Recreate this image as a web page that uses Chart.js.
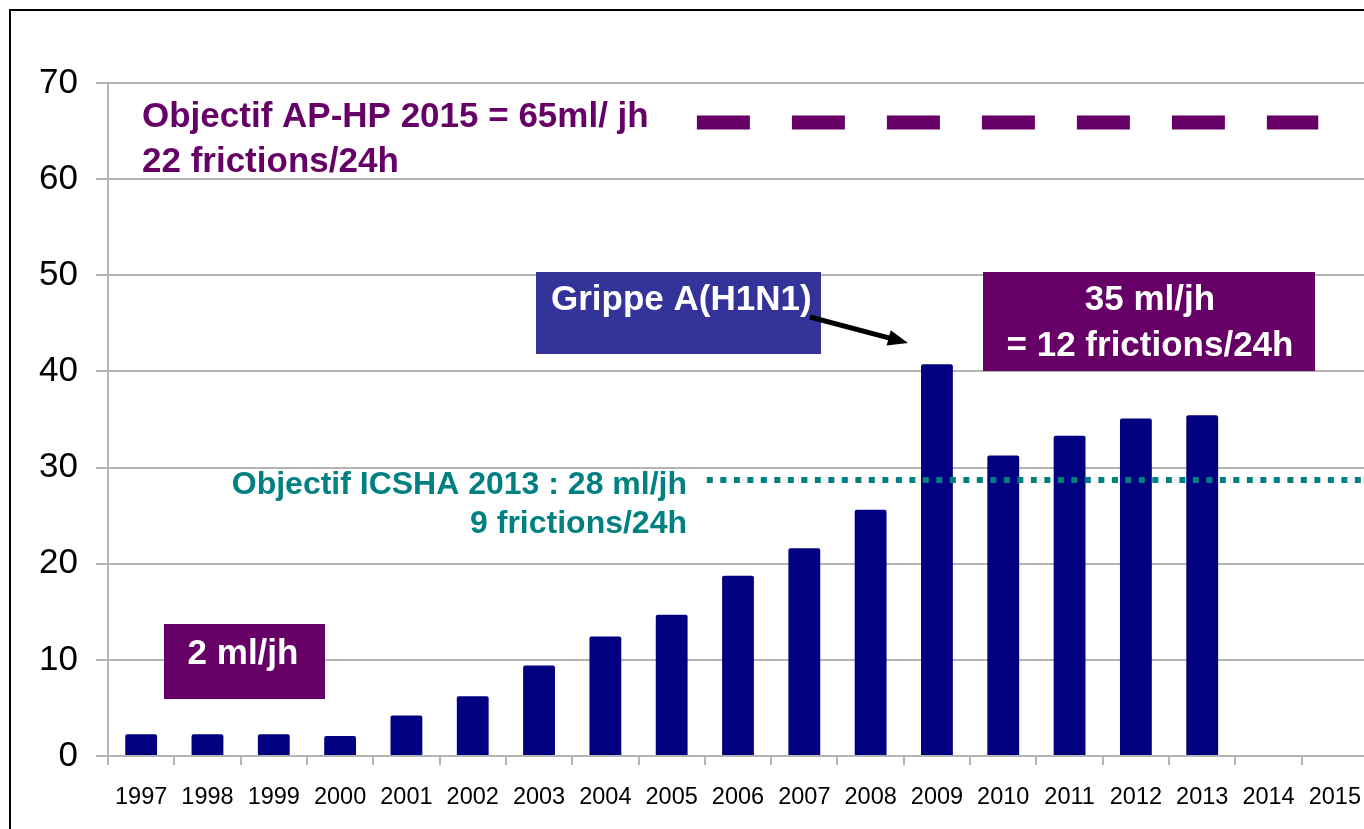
<!DOCTYPE html>
<html>
<head>
<meta charset="utf-8">
<script src="https://cdn.jsdelivr.net/npm/chart.js@4.4.0/dist/chart.umd.min.js"></script>
<style>
  html, body { margin: 0; padding: 0; background: #fff; overflow: hidden; }
  #wrap { position: absolute; left: 0; top: 0; width: 1380px; height: 829px; }
</style>
</head>
<body>
<div id="wrap"><canvas id="chart"></canvas></div>
<script>
///////////////////////////
// DATA
///////////////////////////

const years = ["1997", "1998", "1999", "2000", "2001", "2002", "2003", "2004", "2005", "2006",
               "2007", "2008", "2009", "2010", "2011", "2012", "2013", "2014", "2015"];
const consumption = [2.26, 2.26, 2.26, 2.08, 4.2, 6.22, 9.41, 12.42, 14.7, 18.75,
                     21.6, 25.6, 40.74, 31.25, 33.3, 35.1, 35.45, null, null];
const yTicks = [0, 10, 20, 30, 40, 50, 60, 70];

// target levels (ml / patient-day) as drawn
const targetApHp = 65.9;
const targetIcsha = 28.7;

const FONT = '"Liberation Sans", Arial, sans-serif';
const PURPLE = "#660066";
const TEAL = "#008080";
const NAVY = "#000080";
const GRID = "#b4b4b4";

///////////////////////////
// OVERLAY (frame, targets, notes)
///////////////////////////

function hLine(ctx, chart, value, from, to, color, width, dash) {
    const y = chart.scales.y.getPixelForValue(value);
    const x0 = chart.scales.x.getPixelForValue(from);
    const x1 = chart.scales.x.getPixelForValue(to);
    ctx.save();
    ctx.strokeStyle = color;
    ctx.lineWidth = width;
    ctx.lineCap = "butt";
    ctx.setLineDash(dash);
    ctx.beginPath();
    ctx.moveTo(x0, y);
    ctx.lineTo(x1, y);
    ctx.stroke();
    ctx.restore();
}

function text(ctx, str, x, y, color, size, align) {
    ctx.fillStyle = color;
    ctx.font = `bold ${size}px ${FONT}`;
    ctx.textAlign = align || "left";
    ctx.textBaseline = "alphabetic";
    ctx.fillText(str, x, y);
}

const overlay = {
    id: "overlay",
    beforeDraw(chart) {
        const ctx = chart.ctx;
        ctx.save();
        ctx.fillStyle = "#000";
        ctx.fillRect(9, 9, 2, chart.height);
        ctx.fillRect(9, 9, chart.width, 2);
        ctx.restore();
    },
    afterDatasetsDraw(chart) {
        const ctx = chart.ctx;
        ctx.save();

        // target lines
        hLine(ctx, chart, targetApHp, 8.38, 17.75, PURPLE, 14, [53, 42]);
        hLine(ctx, chart, targetIcsha, 8.53, 18.4, TEAL, 6, [6, 7.5]);

        // AP-HP target label
        text(ctx, "Objectif AP-HP 2015 = 65ml/ jh", 142, 127, PURPLE, 35);
        text(ctx, "22 frictions/24h", 142, 172, PURPLE, 35);

        // ICSHA target label
        text(ctx, "Objectif ICSHA 2013 : 28 ml/jh", 687, 494, TEAL, 32, "right");
        text(ctx, "9 frictions/24h", 687, 533, TEAL, 32, "right");

        // boxes
        ctx.fillStyle = "#333399";
        ctx.fillRect(536, 272, 285, 82);
        text(ctx, "Grippe A(H1N1)", 551, 310, "#fff", 35);

        ctx.fillStyle = PURPLE;
        ctx.fillRect(983, 272, 332, 99);
        text(ctx, "35 ml/jh", 1150, 310, "#fff", 35, "center");
        text(ctx, "= 12 frictions/24h", 1150, 356, "#fff", 35, "center");

        ctx.fillStyle = PURPLE;
        ctx.fillRect(164, 624, 161, 75);
        text(ctx, "2 ml/jh", 243, 664, "#fff", 35, "center");

        // arrow to 2009
        const tipX = 908, tipY = 343, sx = 810, sy = 317;
        const ang = Math.atan2(tipY - sy, tipX - sx);
        ctx.strokeStyle = "#000";
        ctx.fillStyle = "#000";
        ctx.lineWidth = 5;
        ctx.beginPath();
        ctx.moveTo(sx, sy);
        ctx.lineTo(tipX - 16 * Math.cos(ang), tipY - 16 * Math.sin(ang));
        ctx.stroke();
        ctx.beginPath();
        ctx.moveTo(tipX, tipY);
        ctx.lineTo(tipX - 20 * Math.cos(ang) + 8 * Math.sin(ang), tipY - 20 * Math.sin(ang) - 8 * Math.cos(ang));
        ctx.lineTo(tipX - 20 * Math.cos(ang) - 8 * Math.sin(ang), tipY - 20 * Math.sin(ang) + 8 * Math.cos(ang));
        ctx.closePath();
        ctx.fill();

        ctx.restore();
    }
};

///////////////////////////
// CHART
///////////////////////////

const ctx = document.getElementById("chart").getContext("2d");

new Chart(ctx, {
    type: "bar",
    data: {
        labels: years,
        datasets: [{
            data: consumption,
            backgroundColor: NAVY,
            borderRadius: 2,
            borderSkipped: "bottom",
            barPercentage: 0.48,
            categoryPercentage: 1.0
        }]
    },
    options: {
        responsive: true,
        maintainAspectRatio: false,
        animation: false,
        layout: { padding: { left: 0, top: 83, right: 12, bottom: 0 } },
        plugins: {
            legend: { display: false },
            tooltip: { enabled: false }
        },
        scales: {
            x: {
                offset: true,
                grid: {
                    offset: true,
                    drawOnChartArea: false,
                    drawTicks: true,
                    tickLength: 9,
                    color: GRID,
                    lineWidth: 2
                },
                border: { display: true, color: GRID, width: 2 },
                ticks: {
                    color: "#000",
                    font: { family: FONT, size: 23.5 },
                    padding: 18,
                    maxRotation: 0,
                    autoSkip: false
                },
                afterFit(scale) { scale.height = 73; }
            },
            y: {
                min: 0,
                max: 70,
                afterBuildTicks(scale) { scale.ticks = yTicks.map(v => ({ value: v })); },
                grid: {
                    color: GRID,
                    lineWidth: 2,
                    drawTicks: true,
                    tickLength: 12
                },
                border: { display: true, color: GRID, width: 2 },
                ticks: {
                    color: "#000",
                    font: { family: FONT, size: 35 },
                    padding: 18
                },
                afterFit(scale) { scale.width = 108; }
            }
        }
    },
    plugins: [overlay]
});
</script>
</body>
</html>
